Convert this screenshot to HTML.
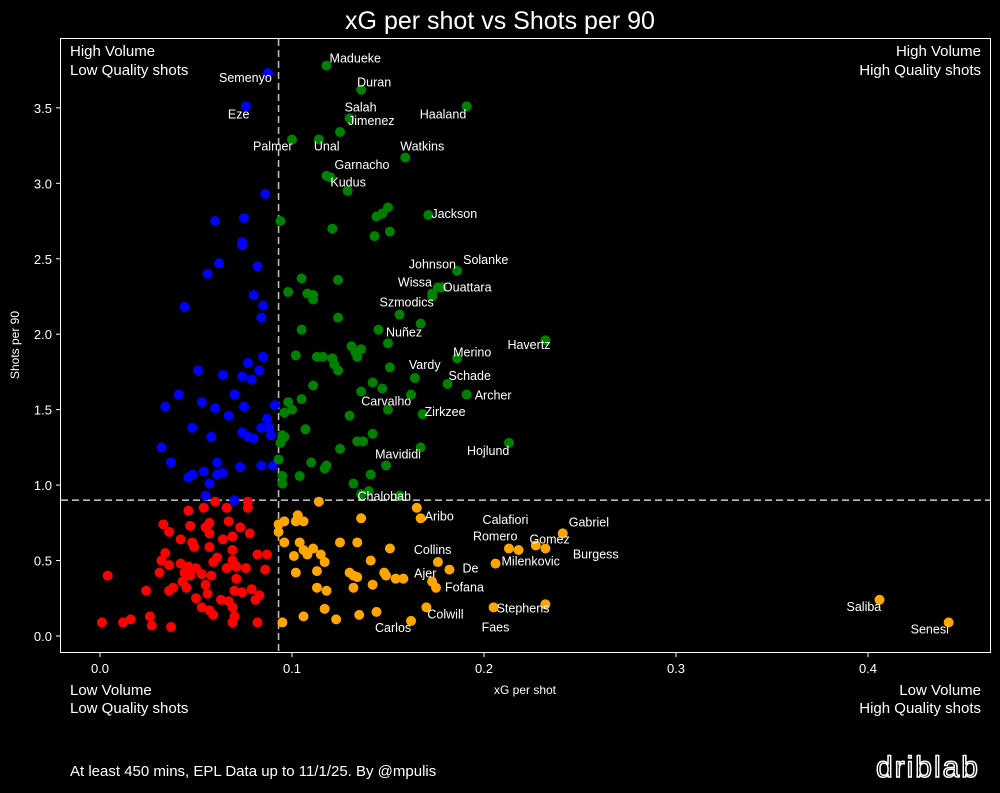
<!DOCTYPE html>
<html><head><meta charset="utf-8">
<style>
html,body{margin:0;padding:0;background:#000;}
body{width:1000px;height:788px;overflow:hidden;font-family:"Liberation Sans",sans-serif;}
svg text{font-family:"Liberation Sans",sans-serif;fill:#fff;}
</style></head>
<body>
<svg id="chart" width="1000" height="788" viewBox="0 0 1000 788" xmlns="http://www.w3.org/2000/svg">
<rect x="0" y="0" width="1000" height="788" fill="#000"/>
<text x="500" y="29" text-anchor="middle" font-size="25">xG per shot vs Shots per 90</text>
<rect x="60.5" y="38.5" width="930" height="614" fill="none" stroke="#fff" stroke-width="1"/>
<g id="ticks"></g>
<g id="refs"></g>
<g id="pts"></g>
<g id="labels"></g>
<text x="70" y="56" font-size="15">High Volume</text>
<text x="70" y="75" font-size="15">Low Quality shots</text>
<text x="981" y="56" font-size="15" text-anchor="end">High Volume</text>
<text x="981" y="75" font-size="15" text-anchor="end">High Quality shots</text>
<text x="70" y="695" font-size="15">Low Volume</text>
<text x="70" y="713" font-size="15">Low Quality shots</text>
<text x="981" y="695" font-size="15" text-anchor="end">Low Volume</text>
<text x="981" y="713" font-size="15" text-anchor="end">High Quality shots</text>
<text x="525" y="694" font-size="12" text-anchor="middle">xG per shot</text>
<text x="19" y="345" font-size="12" text-anchor="middle" transform="rotate(-90 19 345)">Shots per 90</text>
<text x="70" y="776" font-size="15">At least 450 mins, EPL Data up to 11/1/25. By @mpulis</text>
<text x="980" y="777" font-size="30" text-anchor="end" stroke="#fff" stroke-width="1.5" style="fill:none;letter-spacing:2px">driblab</text>
</svg>
<script>
const xTicks = [0.0, 0.1, 0.2, 0.3, 0.4];
const yTicks = [0.0, 0.5, 1.0, 1.5, 2.0, 2.5, 3.0, 3.5];
const xRef = 0.093;
const yRef = 0.9;
const bluePts = [[.0875,3.73],[.076,3.51],[.086,2.93],[.060,2.75],[.075,2.77],[.074,2.61],[.074,2.59],[.062,2.47],[.056,2.40],[.082,2.45],[.080,2.26],[.085,2.19],[.044,2.18],[.084,2.11],[.085,1.85],[.077,1.81],[.051,1.76],[.064,1.73],[.083,1.76],[.074,1.72],[.079,1.70],[.041,1.60],[.070,1.60],[.034,1.52],[.053,1.55],[.060,1.51],[.075,1.52],[.091,1.53],[.067,1.46],[.087,1.44],[.048,1.38],[.084,1.38],[.088,1.38],[.058,1.32],[.074,1.35],[.077,1.32],[.080,1.31],[.089,1.33],[.032,1.25],[.037,1.15],[.061,1.15],[.073,1.12],[.084,1.13],[.090,1.13],[.054,1.09],[.048,1.07],[.046,1.05],[.061,1.07],[.064,1.08],[.057,1.01],[.055,0.93],[.070,0.90]];
const redPts = [[.060,.89],[.077,.89],[.054,.85],[.046,.83],[.066,.85],[.077,.85],[.033,.74],[.036,.69],[.047,.73],[.055,.72],[.057,.75],[.067,.76],[.073,.72],[.078,.68],[.042,.64],[.057,.68],[.064,.64],[.069,.66],[.048,.62],[.049,.59],[.057,.59],[.069,.57],[.082,.54],[.087,.54],[.034,.55],[.032,.50],[.036,.47],[.042,.48],[.046,.46],[.050,.45],[.059,.49],[.061,.52],[.066,.45],[.069,.50],[.071,.46],[.076,.45],[.086,.44],[.004,.40],[.031,.42],[.044,.42],[.047,.40],[.053,.41],[.058,.40],[.071,.38],[.043,.36],[.045,.32],[.055,.34],[.036,.30],[.038,.32],[.024,.30],[.056,.28],[.070,.30],[.074,.29],[.079,.31],[.050,.25],[.063,.24],[.067,.23],[.081,.24],[.083,.27],[.053,.19],[.057,.17],[.059,.14],[.069,.19],[.070,.13],[.001,.09],[.012,.09],[.016,.11],[.026,.13],[.027,.07],[.037,.06],[.069,.09],[.082,.09]];
const greenPts = [[.118,3.78],[.136,3.62],[.191,3.51],[.130,3.43],[.125,3.34],[.100,3.29],[.114,3.29],[.159,3.17],[.118,3.05],[.120,3.04],[.129,2.95],[.094,2.75],[.144,2.78],[.147,2.80],[.150,2.84],[.121,2.70],[.143,2.65],[.151,2.68],[.171,2.79],[.105,2.37],[.124,2.36],[.098,2.28],[.108,2.27],[.111,2.26],[.111,2.23],[.186,2.42],[.173,2.27],[.176,2.31],[.178,2.31],[.173,2.25],[.156,2.13],[.167,2.07],[.124,2.11],[.105,2.03],[.145,2.03],[.150,1.94],[.131,1.92],[.134,1.85],[.136,1.90],[.133,1.88],[.102,1.86],[.113,1.85],[.116,1.85],[.121,1.84],[.122,1.80],[.124,1.76],[.186,1.84],[.232,1.96],[.151,1.78],[.164,1.71],[.181,1.67],[.111,1.66],[.142,1.68],[.147,1.64],[.136,1.62],[.162,1.60],[.191,1.60],[.105,1.57],[.098,1.55],[.096,1.48],[.100,1.50],[.150,1.50],[.130,1.46],[.168,1.47],[.107,1.37],[.095,1.33],[.096,1.32],[.142,1.34],[.134,1.29],[.137,1.29],[.094,1.28],[.125,1.24],[.167,1.25],[.213,1.28],[.093,1.17],[.110,1.15],[.149,1.13],[.117,1.11],[.118,1.13],[.095,1.06],[.104,1.06],[.141,1.07],[.095,1.01],[.132,1.01],[.140,0.96],[.136,0.94],[.156,0.93]];
const orangePts = [[.114,.89],[.165,.85],[.167,.78],[.103,.80],[.102,.76],[.106,.76],[.096,.76],[.093,.74],[.093,.69],[.136,.78],[.096,.62],[.104,.62],[.125,.62],[.134,.62],[.151,.58],[.101,.53],[.106,.57],[.108,.54],[.111,.58],[.115,.54],[.117,.49],[.141,.50],[.102,.42],[.113,.43],[.130,.42],[.134,.39],[.132,.40],[.148,.42],[.149,.40],[.154,.38],[.158,.38],[.176,.49],[.182,.44],[.206,.48],[.213,.58],[.218,.57],[.227,.60],[.232,.58],[.241,.68],[.113,.32],[.118,.30],[.132,.32],[.142,.34],[.173,.36],[.175,.32],[.117,.18],[.106,.13],[.123,.11],[.135,.14],[.144,.16],[.095,.09],[.162,.10],[.170,.19],[.205,.19],[.232,.21],[.406,.24],[.442,.09]];
const labelNames = ["Madueke","Duran","Semenyo","Eze","Haaland","Salah","Jimenez","Palmer","Unal","Watkins","Garnacho","Kudus","Jackson","Johnson","Solanke","Wissa","Ouattara","Szmodics","Nuñez","Havertz","Merino","Vardy","Schade","Archer","Carvalho","Zirkzee","Hojlund","Mavididi","Chalobah","Aribo","Calafiori","Gabriel","Romero","Gomez","Burgess","Collins","Milenkovic","De","Ajer","Fofana","Stephens","Colwill","Faes","Carlos","Saliba","Senesi"];
const labelX = [.118,.136,.0875,.076,.191,.130,.125,.100,.114,.159,.118,.120,.171,.178,.186,.176,.176,.156,.150,.232,.186,.164,.181,.191,.147,.168,.213,.149,.156,.167,.218,.241,.213,.232,.227,.176,.206,.182,.173,.175,.205,.170,.205,.162,.406,.442];
const labelY = [3.78,3.62,3.73,3.51,3.51,3.43,3.34,3.29,3.29,3.17,3.05,3.04,2.79,2.31,2.42,2.31,2.31,2.13,1.94,1.96,1.84,1.71,1.67,1.60,1.64,1.47,1.28,1.13,0.93,0.78,0.57,0.68,0.58,0.58,0.60,0.49,0.48,0.44,0.36,0.32,0.19,0.19,0.19,0.10,0.24,0.09];
const labelDX = [3,-4,-49,-18,-47,-5,8,-39,-5,-5,8,0,3,-33,6,-40,5,-20,-2,-38,-4,-6,1,8,-21,2,-42,-11,-42,4,-36,6,-36,-16,37,-24,6,13,-18,9,3,1,-12,-36,-33,-38];
const labelDY = [-3,-3,9,12,12,-7,-7,11,11,-7,-7,9,3,-19,-7,-1,4,-8,-7,9,-2,-9,-4,5,17,2,12,-7,5,2,-26,-7,-8,-5,13,-8,2,3,-4,4,5,11,24,11,11,11];

const X0=100, XS=1920, Y0=636, YS=150.9;
function sx(v){return X0+v*XS;}
function sy(v){return Y0-v*YS;}
const NS="http://www.w3.org/2000/svg";
function mk(tag,parent){const e=document.createElementNS(NS,tag);parent.appendChild(e);return e;}

const tg=document.getElementById('ticks');
xTicks.forEach(t=>{
  const l=mk('line',tg);
  
  
  l.setAttribute('x1',sx(t));l.setAttribute('x2',sx(t));l.setAttribute('y1',653);l.setAttribute('y2',657);l.setAttribute('stroke','#fff');
  const tx=mk('text',tg);
  
  
  tx.setAttribute('x',sx(t));tx.setAttribute('y',673);tx.setAttribute('font-size','13');tx.setAttribute('text-anchor','middle');
  tx.textContent=t.toFixed(1);
});
yTicks.forEach(t=>{
  const l=mk('line',tg);
  
  
  l.setAttribute('x1',56);l.setAttribute('x2',60);l.setAttribute('y1',sy(t));l.setAttribute('y2',sy(t));l.setAttribute('stroke','#fff');
  const tx=mk('text',tg);
  
  
  tx.setAttribute('x',52);tx.setAttribute('y',sy(t)+5);tx.setAttribute('font-size','13');tx.setAttribute('text-anchor','end');
  tx.textContent=t.toFixed(1);
});
const rg=document.getElementById('refs');
const vl=mk('line',rg);


vl.setAttribute('x1',sx(xRef));vl.setAttribute('x2',sx(xRef));vl.setAttribute('y1',39);vl.setAttribute('y2',652);
vl.setAttribute('stroke','#bbb');vl.setAttribute('stroke-width','1.6');vl.setAttribute('stroke-dasharray','7 4');
const hl=mk('line',rg);


hl.setAttribute('x1',61);hl.setAttribute('x2',990);hl.setAttribute('y1',sy(yRef));hl.setAttribute('y2',sy(yRef));
hl.setAttribute('stroke','#bbb');hl.setAttribute('stroke-width','1.6');hl.setAttribute('stroke-dasharray','7 4');

const pg=document.getElementById('pts');
function drawGroup(arr,color,name){
  arr.forEach(p=>{
    const c=mk('circle',pg);
    
    
    c.setAttribute('cx',sx(p[0]));c.setAttribute('cy',sy(p[1]));c.setAttribute('r',5);c.setAttribute('fill',color);
  });
}
drawGroup(redPts,'#ff0000','point-low-volume-low-quality');
drawGroup(orangePts,'#ffa500','point-low-volume-high-quality');
drawGroup(bluePts,'#0000ff','point-high-volume-low-quality');
drawGroup(greenPts,'#008000','point-high-volume-high-quality');

const lg=document.getElementById('labels');
labelNames.forEach((n,i)=>{
  const t=mk('text',lg);
  
  
  t.setAttribute('x',sx(labelX[i])+labelDX[i]);
  t.setAttribute('y',sy(labelY[i])+labelDY[i]);
  t.setAttribute('font-size','12.5');
  t.textContent=n;
});
</script>
</body></html>
